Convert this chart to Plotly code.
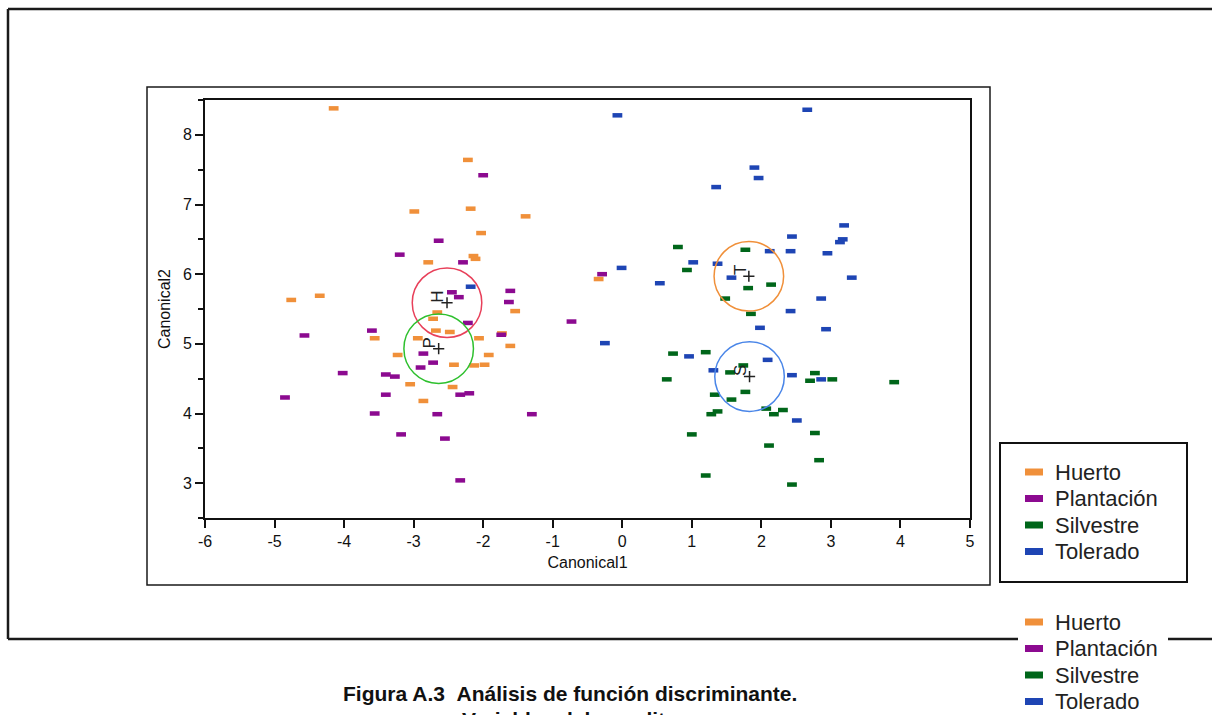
import plotly.graph_objects as go

# ---------------- data ----------------
groups = ["Huerto", "Plantación", "Silvestre", "Tolerado"]
colors = ["#F0903A", "#8C0A90", "#00661A", "#1E45B4"]

huerto_x = [-4.15, -2.22, -2.18, -2.99, -1.39, -2.03, -2.14, -2.11, -2.79, -4.76,
            -4.35, -2.66, -1.54, -2.72, -2.68, -2.48, -3.56, -2.94, -2.06, -1.73,
            -1.61, -1.92, -3.23, -2.42, -2.13, -1.98, -3.05, -2.44, -2.86, -0.34]
huerto_y = [8.38, 7.64, 6.94, 6.90, 6.83, 6.59, 6.26, 6.22, 6.17, 5.63,
            5.69, 5.45, 5.47, 5.36, 5.19, 5.17, 5.08, 5.08, 5.08, 5.15,
            4.97, 4.84, 4.84, 4.70, 4.69, 4.70, 4.42, 4.38, 4.18, 5.93]

plantacion_x = [-2.00, -2.64, -3.20, -2.29, -2.45, -2.35, -1.61, -1.63, -4.57, -3.60,
                -2.22, -1.74, -2.86, -2.90, -2.72, -4.02, -3.40, -3.27, -4.85, -3.40,
                -2.33, -2.20, -3.56, -2.66, -1.30, -3.18, -2.55, -2.33, -0.73, -0.29]
plantacion_y = [7.42, 6.48, 6.28, 6.17, 5.74, 5.67, 5.76, 5.60, 5.12, 5.19,
                5.30, 5.13, 4.86, 4.66, 4.73, 4.58, 4.56, 4.53, 4.23, 4.27,
                4.27, 4.29, 4.00, 3.99, 3.99, 3.70, 3.64, 3.04, 5.32, 6.00]

silvestre_x = [0.80, 1.77, 0.93, 2.14, 1.81, 1.48, 1.85, 0.73, 1.20, 1.74,
               1.55, 0.64, 2.77, 2.70, 3.02, 3.91, 1.77, 1.33, 1.57, 2.07,
               2.31, 1.37, 1.28, 2.18, 1.00, 2.77, 2.11, 2.83, 1.20, 2.44]
silvestre_y = [6.39, 6.35, 6.06, 5.85, 5.80, 5.65, 5.43, 4.86, 4.88, 4.69,
               4.59, 4.49, 4.58, 4.47, 4.49, 4.45, 4.31, 4.27, 4.20, 4.07,
               4.05, 4.03, 3.99, 3.99, 3.70, 3.72, 3.54, 3.33, 3.11, 2.98]

tolerado_x = [-0.07, 2.66, 1.90, 1.96, 1.35, 3.19, 2.44, 3.17, 3.13, 2.12,
              2.42, 2.95, 1.02, 1.37, -0.01, 1.57, 3.30, 0.54, 2.86, 2.42,
              1.98, 2.93, -0.25, 0.96, 2.09, 1.31, 2.44, 2.86, 2.51, -2.18]
tolerado_y = [8.28, 8.36, 7.53, 7.38, 7.25, 6.70, 6.54, 6.50, 6.46, 6.33,
              6.33, 6.30, 6.17, 6.15, 6.09, 5.95, 5.95, 5.87, 5.65, 5.47,
              5.23, 5.21, 5.01, 4.82, 4.77, 4.62, 4.55, 4.49, 3.90, 5.82]

# group means (+), their letter labels, circle colours and radius
mean_labels = ["H", "P", "T", "S"]
mean_x = [-2.52, -2.64, 1.82, 1.83]
mean_y = [5.59, 4.93, 5.97, 4.53]
circle_colors = ["#E8405A", "#2EC02E", "#F0903A", "#4A86E8"]
circle_radius = 0.5

x_ticks = [-6, -5, -4, -3, -2, -1, 0, 1, 2, 3, 4, 5]
y_ticks = [3, 4, 5, 6, 7, 8]

caption1 = "Figura A.3 \u00a0Análisis de función discriminante."
caption2 = "Variables del nopalito"

series_x = [huerto_x, plantacion_x, silvestre_x, tolerado_x]
series_y = [huerto_y, plantacion_y, silvestre_y, tolerado_y]

# ---------------- figure ----------------
W, H = 1212, 715
ML, MR, MT, MB = 205, 242, 100, 197
PW, PH = W - ML - MR, H - MT - MB
FONT = "Liberation Sans, Arial"


def px(xp):
    return (xp - ML) / PW


def py(yp):
    return (H - MB - yp) / PH


fig = go.Figure()

for name, col, xs, ys in zip(groups, colors, series_x, series_y):
    fig.add_trace(go.Scatter(
        x=xs, y=ys, mode="markers", name=name, showlegend=False,
        marker=dict(symbol="line-ew", size=7, color=col,
                    line=dict(color=col, width=4.5)),
    ))

fig.add_trace(go.Scatter(
    x=mean_x, y=mean_y, mode="markers", showlegend=False,
    marker=dict(symbol="cross-thin", size=8, color="#222",
                line=dict(color="#222", width=1.5)),
))

shapes = []
for cx, cy, cc in zip(mean_x, mean_y, circle_colors):
    shapes.append(dict(type="circle", xref="x", yref="y",
                       x0=cx - circle_radius, x1=cx + circle_radius,
                       y0=cy - circle_radius, y1=cy + circle_radius,
                       line=dict(color=cc, width=1.5), layer="above"))

frame_col = "#1a1a1a"
# outer page frame
shapes.append(dict(type="line", xref="paper", yref="paper",
                   x0=px(8), x1=px(1212), y0=py(9), y1=py(9),
                   line=dict(color=frame_col, width=2.5)))
shapes.append(dict(type="line", xref="paper", yref="paper",
                   x0=px(8), x1=px(8), y0=py(9), y1=py(639),
                   line=dict(color=frame_col, width=2.5)))
shapes.append(dict(type="line", xref="paper", yref="paper",
                   x0=px(8), x1=px(1018), y0=py(639), y1=py(639),
                   line=dict(color=frame_col, width=2.5)))
shapes.append(dict(type="line", xref="paper", yref="paper",
                   x0=px(1168), x1=px(1212), y0=py(639), y1=py(639),
                   line=dict(color=frame_col, width=2.5)))
# chart frame
shapes.append(dict(type="rect", xref="paper", yref="paper",
                   x0=px(147), x1=px(990), y0=py(87), y1=py(585),
                   line=dict(color=frame_col, width=1.5)))
# legend box
shapes.append(dict(type="rect", xref="paper", yref="paper",
                   x0=px(1000), x1=px(1187), y0=py(443), y1=py(582),
                   line=dict(color="#111", width=2)))

annotations = []
for lab, mx, my in zip(mean_labels, mean_x, mean_y):
    annotations.append(dict(x=mx, y=my, xref="x", yref="y", text=lab,
                            showarrow=False, textangle=-90, xshift=-9, yshift=6,
                            font=dict(family=FONT, size=17, color="#222")))

# legends (boxed one and repeated one below)
for base in (472, 622):
    for i, (name, col) in enumerate(zip(groups, colors)):
        cy = base + i * 26.5
        shapes.append(dict(type="rect", xref="paper", yref="paper",
                           x0=px(1025), x1=px(1043), y0=py(cy - 3.5), y1=py(cy + 3.5),
                           fillcolor=col, line=dict(width=0)))
        annotations.append(dict(x=px(1054), y=py(cy), xref="paper", yref="paper",
                                xanchor="left", yanchor="middle", text=name,
                                showarrow=False, borderpad=0,
                                font=dict(family=FONT, size=22, color="#222")))

annotations.append(dict(x=px(570), y=py(693), xref="paper", yref="paper",
                        xanchor="center", yanchor="middle", text="<b>" + caption1 + "</b>",
                        showarrow=False,
                        font=dict(family=FONT, size=21, color="#111")))
annotations.append(dict(x=px(570), y=py(719), xref="paper", yref="paper",
                        xanchor="center", yanchor="middle", text="<b>" + caption2 + "</b>",
                        showarrow=False,
                        font=dict(family=FONT, size=21, color="#111")))

axis_common = dict(showgrid=False, zeroline=False, showline=True, linewidth=2,
                   linecolor="#111", mirror=True, ticks="outside", tickwidth=1.5,
                   tickcolor="#111", ticklen=8,
                   tickfont=dict(family=FONT, size=16, color="#111"))

fig.update_layout(
    width=W, height=H, autosize=False,
    margin=dict(l=ML, r=MR, t=MT, b=MB, pad=0),
    paper_bgcolor="white", plot_bgcolor="white",
    showlegend=False,
    shapes=shapes, annotations=annotations,
    xaxis=dict(range=[-6, 5], tickvals=x_ticks, ticktext=[str(v) for v in x_ticks],
               title=dict(text="Canonical1", standoff=8,
                          font=dict(family=FONT, size=16, color="#111")),
               **axis_common),
    yaxis=dict(range=[2.5, 8.5], tickvals=y_ticks, ticktext=[str(v) for v in y_ticks],
               minor=dict(ticks="outside", ticklen=5, dtick=0.5, tick0=2.5, tickcolor="#111"),
               title=dict(text="Canonical2", standoff=8,
                          font=dict(family=FONT, size=16, color="#111")),
               **axis_common),
)

fig.write_html("out.html", config={"displayModeBar": False},
               post_script="document.body.style.margin='0';")
